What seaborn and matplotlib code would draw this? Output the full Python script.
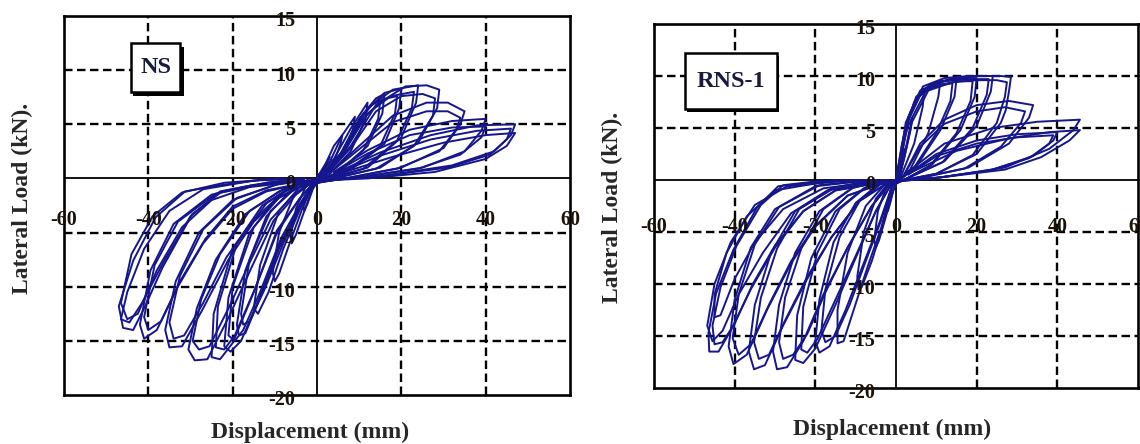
import matplotlib
matplotlib.use("Agg")
import matplotlib.pyplot as plt
import seaborn as sns
import pandas as pd
from matplotlib.patches import Rectangle

sns.set_style("white")
plt.rcParams['font.family'] = ['Liberation Serif', 'DejaVu Serif']

# hysteresis cycles (mm, kN)
# each cycle: push to + peak, unload, pull to - peak, unload
ns_disp = [
    [0, 1.5, 3, 2.5, 1, -1, -2.2, -3, -3.2, -2, -0.5],
    [0, 2, 4, 6, 5.6, 3.5, 1, -1, -3, -5, -6, -6.3, -5, -2.5, -0.5],
    [0, 3, 6, 9, 8.5, 6, 2, -1, -3.5, -6.5, -9, -10, -10.5, -9, -5.5, -1],
    [0, 4, 8, 12, 11.5, 8, 3, -1, -4, -8, -11.5, -14, -15, -13.5, -9, -3],
    [0, 5, 10, 14, 16, 15.5, 12, 5, -1, -4, -9, -13.5, -17, -18.5, -19, -17, -12, -5],
    [0, 4.5, 9, 13, 15, 14.5, 11, 5, -1, -3.5, -8, -12.5, -16, -17.5, -18, -16, -11, -4],
    [1, 6, 11, 16, 20, 19.5, 16, 8, -1, -3.2, -8.5, -13.8, -18, -20.5, -22, -21, -16, -9, -2],
    [1, 6, 11, 15.5, 19, 18.5, 15, 7, -1, -3.5, -8.5, -13.5, -17.5, -19.5, -21, -20, -15, -8, -2],
    [2, 7, 12, 18, 24, 23.5, 20, 12, 3, -1, -4, -9.5, -15, -20, -23, -25, -24.5, -20, -13, -5],
    [2, 7, 12, 17.5, 23, 22.5, 19, 11, 3, -1, -4, -9.5, -14.5, -19.5, -22, -24, -23.5, -19, -12, -5],
    [2, 8, 14, 21, 26, 29, 28.5, 24, 15, 4, -2, -5, -10.3, -15.5, -20.8, -26, -29, -30.5, -28.5, -24, -17, -9, -3],
    [2, 8, 14, 20, 25, 28, 27.5, 23, 14, 4, -2, -5.5, -11, -16, -21, -25.5, -28, -29.5, -27.5, -23, -16, -8, -3],
    [3, 10, 18, 26, 31, 35, 34, 30, 20, 8, -3, -9, -15, -21, -27, -32, -35, -36, -33.5, -28, -20, -10, -3],
    [3, 10, 18, 26, 31, 34, 33, 29, 19, 8, -3, -9.5, -15.5, -21.5, -27, -31.5, -34, -35, -32.5, -27, -19, -9, -3],
    [4, 12, 22, 32, 40, 39, 35, 25, 10, -4, -12, -20, -27, -33, -38, -41, -42, -39.5, -34, -25, -12, -3],
    [4, 12, 22, 32, 40, 39, 34, 24, 10, -4, -12, -20, -26.5, -32.5, -37, -40, -41, -38.5, -33, -24, -12, -3],
    [5, 15, 27, 38, 47, 46, 42, 32, 15, -5, -15, -22.5, -29.6, -36.6, -41, -43.6, -46, -47, -43.6, -38.3, -31.3, -22.5, -13.8, -4],
    [5, 15, 27, 38, 46, 45, 41, 31, 15, -5, -15, -23, -30, -36.5, -41.5, -44.5, -46.5, -45, -41, -35, -27, -15, -4],
    [5, 18, 30, 40, 47, 45, 40, 28, 12, -5, -16, -25, -32, -38, -42.5, -45, -46.5, -44, -39, -32, -22, -8],
]
ns_load = [
    [0, 1, 2, 1.5, 0.3, -1, -2.3, -3, -2.6, -1, -0.1],
    [0, 1.3, 3, 4, 3.2, 1, 0.1, -0.8, -3, -5.2, -6, -5.4, -2.8, -0.6, 0],
    [0.1, 1.5, 4, 5.7, 4.5, 2, 0.3, -0.6, -2.8, -6, -8.8, -9.5, -8.7, -5, -1.6, 0],
    [0.2, 1.8, 4.6, 7, 5.5, 2.5, 0.4, -0.5, -2.8, -6.5, -10.5, -12.5, -12, -8, -3, -0.3],
    [0.1, 1.8, 5.5, 7.4, 7.8, 6, 3, 0.6, -0.5, -2.5, -6.5, -11, -14.3, -14.5, -13.5, -8.5, -3.5, -0.6],
    [0.1, 1.5, 4.8, 6.8, 7.2, 5.5, 2.6, 0.5, -0.5, -2.2, -6, -10.3, -13.2, -13.5, -12.5, -7.5, -3, -0.5],
    [0.3, 2.5, 6, 7.9, 8.3, 6.5, 3.2, 0.8, -0.6, -2.1, -5.8, -11.2, -15, -16, -15.5, -11, -5, -1.5, -0.1],
    [0.3, 2.2, 5.5, 7.3, 7.6, 6, 3, 0.7, -0.5, -2, -5.5, -10.5, -14, -15, -14.5, -10, -4.5, -1.3, -0.1],
    [0.4, 3, 6.5, 8.2, 8.6, 7, 3.8, 1, 0, -0.5, -1.8, -5, -10.5, -15.2, -16.7, -16.5, -12.5, -6.5, -2.5, -0.5],
    [0.4, 2.8, 6, 7.6, 8, 6.5, 3.5, 0.9, 0, -0.5, -1.8, -4.8, -10, -14.5, -15.8, -15.6, -11.8, -6, -2.3, -0.5],
    [0.3, 3, 6.8, 8.5, 8.6, 8.2, 6.5, 3.3, 1, 0, -0.6, -1.5, -3.9, -8.2, -12.7, -16.7, -16.8, -15.8, -12, -7.5, -3.3, -1.2, -0.3],
    [0.3, 2.8, 6.2, 7.6, 7.8, 7.4, 5.8, 3, 0.9, 0, -0.6, -1.5, -3.8, -7.8, -12, -15.5, -15.8, -15, -11.2, -7, -3, -1, -0.3],
    [0.5, 3, 5.8, 7, 7, 6.2, 5, 2.8, 1, 0.1, -0.6, -1.8, -4, -7.5, -12, -15.5, -15.6, -14, -9.5, -5, -2, -0.6, -0.2],
    [0.5, 2.7, 5.2, 6.2, 6.2, 5.6, 4.5, 2.5, 0.9, 0.1, -0.6, -1.8, -4, -7.3, -11.5, -14.5, -14.8, -13.3, -9, -4.7, -1.8, -0.5, -0.1],
    [0.6, 2.6, 4.5, 5.3, 5.5, 4.4, 2.5, 1, 0.1, -0.5, -1.2, -2.8, -6, -10, -14, -14.8, -13.5, -8.5, -4.2, -1.5, -0.4, 0],
    [0.5, 2.3, 4, 4.7, 4.8, 3.8, 2.2, 0.9, 0.1, -0.5, -1.1, -2.6, -5.6, -9.5, -13.2, -14, -12.8, -8, -4, -1.4, -0.4, 0],
    [0.6, 2.4, 4, 4.9, 5, 4, 2.5, 1.2, 0.2, -0.3, -0.6, -1.2, -3.3, -8.2, -12, -14, -13.8, -11.8, -7.6, -3.6, -1.2, -0.6, -0.15, 0],
    [0.5, 2.1, 3.6, 4.4, 4.6, 3.6, 2.2, 1, 0.2, -0.3, -0.6, -1.2, -3.5, -7.8, -11.5, -13.3, -13, -10.5, -6.5, -3, -1, -0.2, 0],
    [0.4, 2, 3.3, 4, 4.2, 3, 1.8, 0.6, 0, -0.3, -0.8, -2, -4.5, -8.5, -12.5, -13, -11.5, -7, -3.5, -1.3, -0.4, 0],
]

rns_disp = [
    [0, 1, 2, 1.6, 0.6, -0.5, -1.5, -2, -2.2, -1.2, -0.3],
    [0, 1.5, 3, 4, 3.6, 2, 0.5, -0.7, -2.5, -4.2, -5, -5.4, -4.5, -2.5, -0.5],
    [0, 1.5, 3.5, 5.5, 7, 6.6, 4.5, 1.5, -0.8, -3, -6, -8.5, -9.3, -9.6, -8, -5, -1.5],
    [0, 2, 4.5, 8, 11, 10.5, 8, 3.5, 0.5, -1, -3.6, -7, -10.5, -13, -14.5, -14.5, -12, -7.5, -2.5],
    [0.3, 2.2, 5, 9, 14, 13.5, 10, 4.5, 1, -1, -3.8, -7.5, -11.5, -15, -17.5, -18.5, -17.5, -14, -9, -3.5],
    [0.3, 2.4, 5, 9, 15, 14.5, 11, 5, 1, -1, -4, -8, -12.5, -16.5, -19, -20, -19, -15.5, -10, -4],
    [0.5, 2.5, 6, 11, 16, 19, 18.5, 15, 8.5, 2, -1.5, -5, -10, -15, -19.5, -22, -23.5, -23, -19.5, -14, -7.5, -2],
    [0.5, 2.4, 6, 11, 16, 20, 19.5, 16, 9, 2, -1.5, -5, -10, -15, -20, -23, -25, -24.5, -21, -15, -8, -2],
    [0.5, 3, 6.7, 12, 18, 23, 22.5, 19, 11.5, 3, -2, -6, -12, -17.5, -22, -25.5, -28, -29, -27.5, -23.5, -18, -10.5, -3],
    [0.5, 3, 6.7, 12, 18, 24, 23.5, 20, 12, 3, -2, -6, -12, -18, -23, -27, -29.5, -30.5, -29, -25, -19, -11, -3],
    [1, 4, 8, 14, 20, 25, 27.5, 27, 25, 19, 10, 2, -3, -9, -16, -22, -27.5, -31.5, -34, -35.2, -33.5, -29.5, -24, -15, -5],
    [1, 4, 8, 14, 21, 26, 28.5, 28, 27.2, 26, 20, 10, 2, -3, -9, -16, -22, -28, -32.5, -35.2, -36.5, -35, -31, -25, -16, -5],
    [2, 6, 12, 20, 27, 32, 31, 26, 17, 6, -4, -12, -20, -26, -31.5, -36, -39, -40.5, -39, -35, -29, -19, -6],
    [2, 6, 12, 20, 28, 34, 33, 28, 18, 6, -4, -12, -20, -26, -32, -37, -40.3, -41.5, -40, -36, -30, -20, -6],
    [3, 10, 20, 30, 39, 38, 33, 23, 10, -5, -15, -23, -30, -35.5, -40, -43, -45, -45.5, -43.5, -39.5, -33.5, -28, -19, -7],
    [3, 10, 20, 30, 40, 39, 34, 24, 10, -5, -15, -23, -30, -36, -41, -44, -46.3, -46.5, -44.6, -40.3, -34.4, -29.2, -20, -7],
    [3, 12, 24, 35, 45.6, 44, 38, 27, 12, -6, -17, -26, -33, -39, -43, -45.5, -46.8, -45, -41, -35, -27, -10],
    [3, 15, 28, 38, 45.6, 43, 36, 27, 10, -6, -18, -28, -35, -40, -43.5, -45, -45, -42, -37, -30, -15],
]
rns_load = [
    [0, 1.8, 3, 2.2, 0.4, -0.8, -2.3, -3, -2.5, -0.8, 0],
    [0, 3, 5.2, 6, 4.8, 2, 0.2, -1, -3.5, -5.8, -6.5, -5.8, -3, -0.8, 0],
    [0, 3.5, 6.5, 8, 8.5, 7, 3.5, 0.6, -1, -4, -7.8, -10.3, -10.5, -9.3, -5, -1.8, -0.1],
    [0, 4.5, 7.5, 9, 9.5, 8, 4.5, 1, 0, -0.6, -4.5, -8.3, -12.5, -15.5, -15.7, -12.5, -7, -2.5, -0.3],
    [0.2, 4.8, 7.8, 9, 9.3, 7.6, 4.5, 1.2, 0, -0.6, -4, -7.8, -12, -15, -15.6, -14.5, -10.5, -5.5, -2, -0.3],
    [0.2, 5, 8, 9.3, 9.7, 8, 4.8, 1.3, 0, -0.6, -4, -8, -12.5, -16, -16.6, -15.5, -11.5, -6, -2.2, -0.3],
    [0.3, 5.3, 8.3, 9.2, 9.5, 9.5, 7.6, 4.5, 1.4, 0, -0.6, -3, -7.3, -11.5, -15.3, -16.6, -16.3, -12.2, -7, -2.8, -0.7, 0],
    [0.3, 5.5, 8.6, 9.5, 9.8, 9.8, 8, 4.8, 1.5, 0, -0.6, -3, -7.5, -12, -16.2, -17.6, -17.3, -13, -7.5, -3, -0.8, 0],
    [0.3, 5.7, 8.7, 9.5, 9.7, 9.7, 8.2, 5, 1.7, 0.2, -0.6, -2.5, -6.5, -10.8, -14.8, -16.8, -17.2, -15.6, -11.3, -6.6, -2.8, -0.7, 0],
    [0.3, 6, 9, 9.8, 10, 10, 8.5, 5.2, 1.8, 0.2, -0.6, -2.5, -6.5, -11, -15.5, -18, -18.2, -16.5, -12, -7, -3, -0.8, 0],
    [0.4, 5.6, 8.6, 9.4, 9.6, 9.6, 9.4, 8, 5.5, 2.4, 0.6, 0, -0.5, -2, -5.5, -9.3, -13.5, -16.8, -17.2, -15.6, -11.3, -6.6, -2.8, -0.7, 0],
    [0.4, 6, 9, 9.8, 10, 10, 9.9, 8.5, 6.7, 5.5, 2.5, 0.6, 0, -0.5, -2, -5.5, -9.5, -14, -17.8, -18.2, -16.5, -12, -7, -3, -0.8, 0],
    [0.5, 3.2, 5.4, 6.6, 7, 6.6, 5.5, 3.2, 1.1, 0.2, -0.4, -1.5, -4.4, -7.8, -12, -15.8, -16.8, -15.2, -11, -6.2, -2.6, -0.5, 0],
    [0.5, 3.5, 5.8, 7.2, 7.6, 7.2, 6, 3.5, 1.2, 0.2, -0.4, -1.5, -4.5, -8, -12.5, -16.8, -17.7, -16, -11.5, -6.5, -2.8, -0.6, 0],
    [0.5, 2.3, 3.5, 4.1, 4.3, 3.5, 2.1, 0.9, 0.2, -0.3, -1, -3, -6.3, -10, -13.8, -15.6, -15.8, -14, -10.3, -6.3, -2.4, -0.5, -0.1, 0],
    [0.6, 2.5, 3.8, 4.4, 4.6, 3.8, 2.3, 1, 0.2, -0.3, -1, -3, -6.5, -10.5, -14.5, -16.5, -16.5, -14.7, -10.9, -6.7, -2.6, -0.6, -0.2, 0],
    [0.8, 3.5, 5, 5.6, 5.8, 4.8, 3, 1.2, 0.3, -0.3, -1, -3.2, -7, -11, -14.5, -15.5, -14, -10, -6, -2.4, -0.6, 0],
    [0.6, 2.8, 4, 4.6, 4.8, 3.8, 2.2, 1, 0.2, -0.2, -0.8, -2.8, -6, -9.5, -13, -13.2, -11, -7, -3.5, -1, 0],
]

x_ticks = [-60, -40, -20, 0, 20, 40, 60]
y_ticks = [15, 10, 5, 0, -5, -10, -15, -20]
grid_x = [-40, -20, 20, 40]
grid_y = [10, 5, -5, -10, -15]


def cycles_frame(disp, load):
    rows = []
    for c, (xs, ys) in enumerate(zip(disp, load)):
        for k, (x, y) in enumerate(zip(xs, ys)):
            rows.append({"cycle": c, "step": k, "disp": x, "load": y})
    return pd.DataFrame(rows)


fig = plt.figure(figsize=(11.4, 4.44), dpi=100)
ax1 = fig.add_axes([64 / 1140, 1 - 395 / 444, 506 / 1140, 379 / 444])
ax2 = fig.add_axes([654 / 1140, 1 - 388 / 444, 484 / 1140, 364 / 444])

panels = [
    (ax1, ns_disp, ns_load, "NS", -3.8, (-44, 8.0, 11.5, 4.5), "bottom"),
    (ax2, rns_disp, rns_load, "RNS-1", -4.5, (-52.4, 6.8, 22.9, 5.4), "right"),
]

for ax, disp, load, name, xlab_y, box, shadow in panels:
    df = cycles_frame(disp, load)
    sns.lineplot(data=df, x="disp", y="load", units="cycle", estimator=None,
                 sort=False, color="#16168c", lw=1.4, ax=ax, zorder=3)
    ax.set_xlim(-60, 60)
    ax.set_ylim(-20, 15)
    ax.set_xticks([])
    ax.set_yticks([])
    ax.set_xlabel("")
    ax.set_ylabel("")
    for gx in grid_x:
        ax.axvline(gx, color="black", lw=1.7, ls=(0, (3.6, 1.9)), zorder=1)
    for gy in grid_y:
        ax.axhline(gy, color="black", lw=1.7, ls=(0, (3.6, 1.9)), zorder=1)
    ax.axvline(0, color="black", lw=1.3, zorder=2)
    ax.axhline(0, color="black", lw=1.3, zorder=2)
    for s in ax.spines.values():
        s.set_visible(True)
        s.set_color("black")
        s.set_linewidth(1.9)

    for t in x_ticks:
        ax.text(t, xlab_y, str(t), ha="center", va="center", fontsize=14.5,
                fontweight="bold", color="#1a1208", zorder=5, clip_on=False)
    for t in y_ticks:
        ax.text(-5.2, t - 0.5, str(t), ha="right", va="center", fontsize=14.5,
                fontweight="bold", color="#1a1208", zorder=5, clip_on=False)

    bx, by, bw, bh = box
    if shadow == "bottom":
        ax.add_patch(Rectangle((bx + 0.3, by - 0.35), bw + 0.7, bh, facecolor="black",
                               edgecolor="none", zorder=6))
    else:
        ax.add_patch(Rectangle((bx + 0.6, by - 0.3), bw, bh, facecolor="black",
                               edgecolor="none", zorder=6))
    ax.add_patch(Rectangle((bx, by), bw, bh, facecolor="white", edgecolor="black",
                           lw=1.8, zorder=7))
    ax.text(bx + bw / 2, by + bh / 2, name, ha="center", va="center", fontsize=17.5,
            fontweight="bold", color="#1a1a40", zorder=8)

fig.text(22 / 1140, 1 - 198 / 444, "Lateral Load (kN).", rotation=90, ha="center",
         va="center", fontsize=17, fontweight="bold")
fig.text(612 / 1140, 1 - 207 / 444, "Lateral Load (kN).", rotation=90, ha="center",
         va="center", fontsize=17, fontweight="bold")
fig.text(310 / 1140, 1 - 432 / 444, "Displacement (mm)", ha="center", va="center",
         fontsize=17, fontweight="bold")
fig.text(892 / 1140, 1 - 429 / 444, "Displacement (mm)", ha="center", va="center",
         fontsize=17, fontweight="bold")

fig.savefig("out.png", dpi=100)
